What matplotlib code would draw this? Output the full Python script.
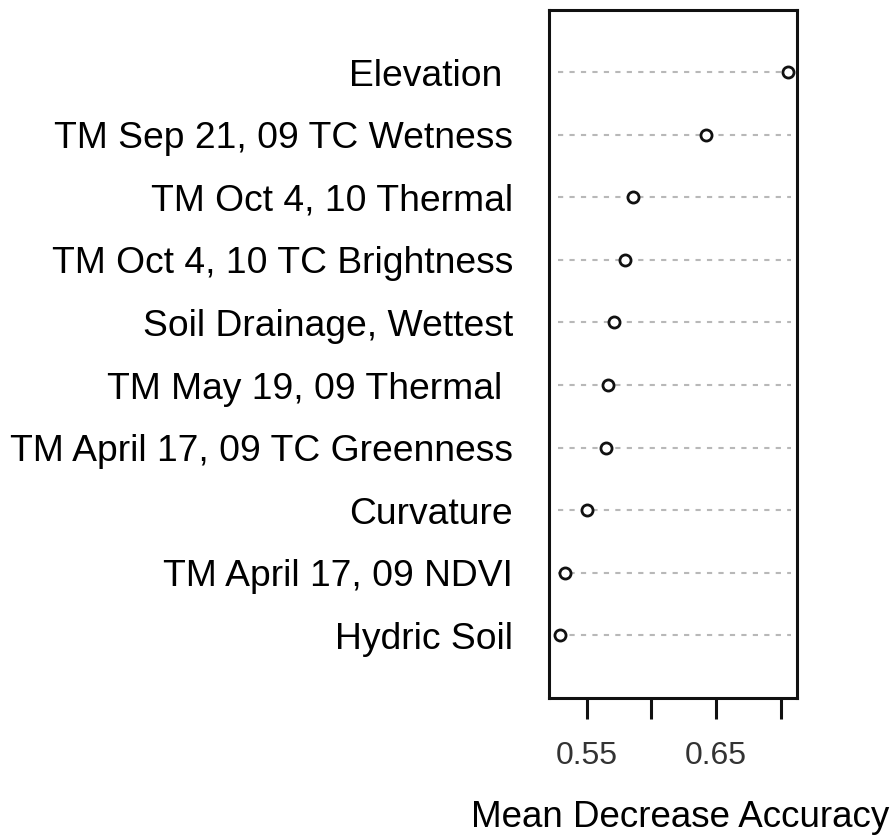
import matplotlib as mpl
mpl.use('Agg')
from matplotlib import pyplot as plt

# variable importance, top row first
var_names = ["Elevation ", "TM Sep 21, 09 TC Wetness", "TM Oct 4, 10 Thermal",
             "TM Oct 4, 10 TC Brightness", "Soil Drainage, Wettest",
             "TM May 19, 09 Thermal ", "TM April 17, 09 TC Greenness",
             "Curvature", "TM April 17, 09 NDVI", "Hydric Soil"]
mda = [0.7058, 0.6420, 0.5856, 0.5794, 0.5711,
       0.5667, 0.5649, 0.5500, 0.5332, 0.5294]
x_ticks = [0.55, 0.60, 0.65, 0.70]
x_tick_labels = ["0.55", "", "0.65", ""]

fig = plt.figure(figsize=(8.95, 8.36), dpi=100)
ax = fig.add_axes([0.6134, 0.1651, 0.2771, 0.8235])

rows = list(range(len(var_names), 0, -1))

# dotted guide lines, then the points
for r in rows:
	ax.axhline(r, xmin=0.036, xmax=0.976, color='#b8b8b8', lw=1.5,
	           ls=(0, (2.5, 3)), zorder=1)
ax.plot(mda, rows, ls='none', marker='o', ms=8, mfc='white', mec='#111111',
        mew=2.0, zorder=3, clip_on=False)

ax.set_xlim(0.5209, 0.7125)
ax.set_ylim(0, len(var_names) + 1)

for s in ax.spines.values():
	s.set_linewidth(2.2)
	s.set_color('#111111')

ax.set_yticks(rows)
ax.set_yticklabels(var_names, family='Liberation Sans', fontsize=26.8)
ax.tick_params(axis='y', length=0, pad=26)

ax.set_xticks(x_ticks)
ax.set_xticklabels(x_tick_labels, family='Liberation Sans', fontsize=23, color='#333333')
ax.tick_params(axis='x', length=15, width=2.2, color='#111111', pad=16)

fig.text(680 / 895, 1 - 827 / 836, "Mean Decrease Accuracy", family='Liberation Sans',
         fontsize=26.5, ha='center', va='baseline')

plt.savefig('out.png', dpi=100)
plt.close()
